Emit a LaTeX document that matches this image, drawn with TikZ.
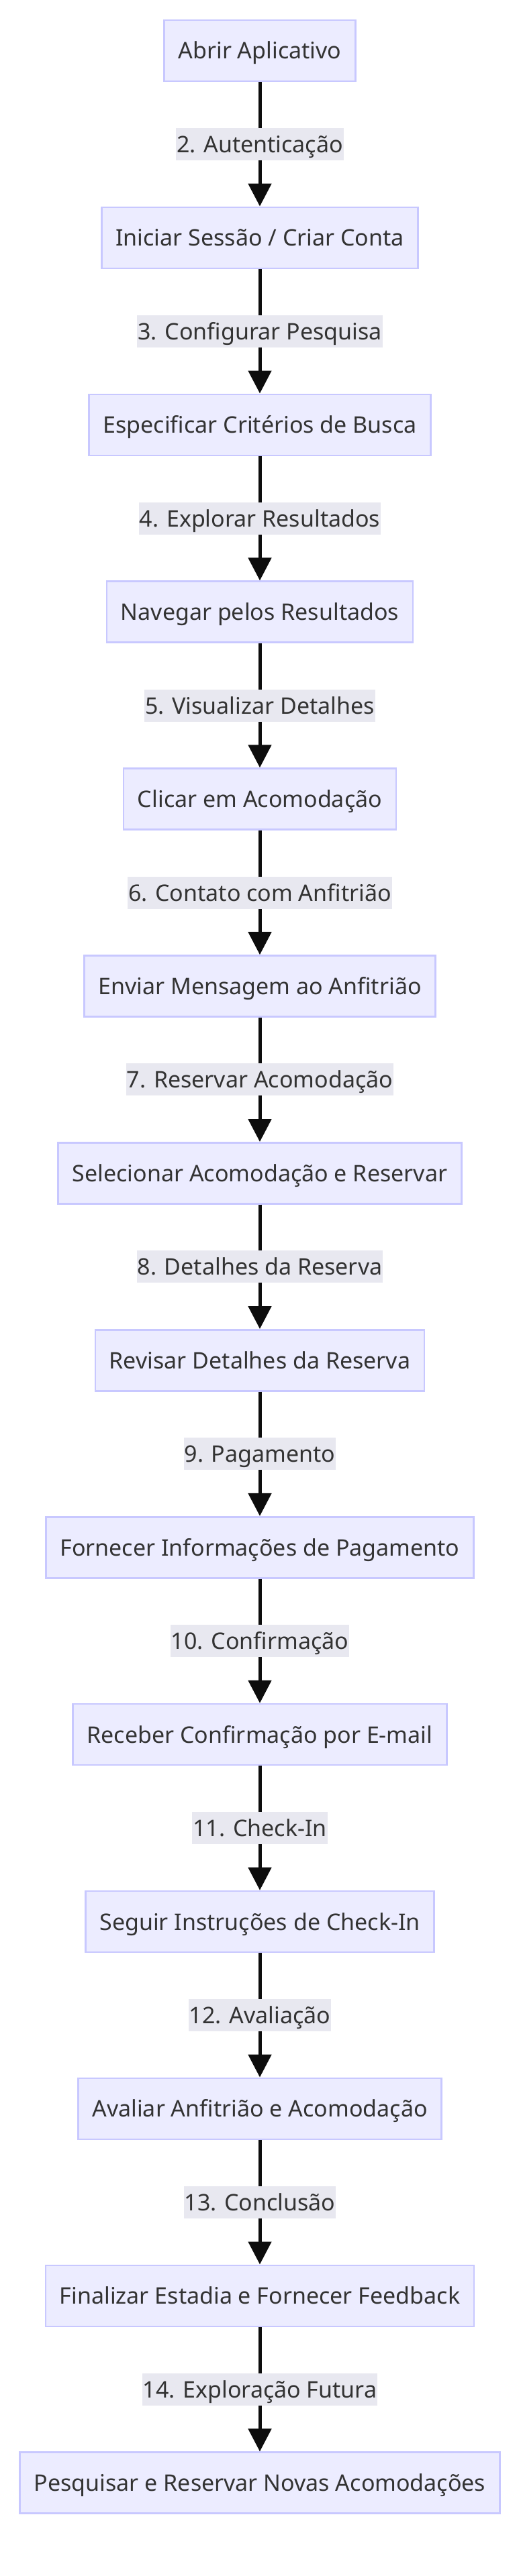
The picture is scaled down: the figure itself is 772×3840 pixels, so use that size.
\documentclass[tikz,border=0pt]{standalone}
\usepackage{fontspec}
\setmainfont{Noto Sans}
\usetikzlibrary{arrows.meta}
\definecolor{boxfill}{RGB}{236,236,255}
\definecolor{boxline}{RGB}{200,200,255}
\definecolor{lblfill}{RGB}{232,232,240}
\definecolor{txt}{RGB}{51,51,51}
\tikzset{
  stepbox/.style = {draw = boxline, fill = boxfill, line width = 2.6pt, text = txt,
    minimum height = 91pt, inner xsep = 21pt, inner ysep = 0pt,
    text height = 25pt, text depth = 0pt, font = \fontsize{34}{40}\selectfont},
  lbl/.style = {fill = lblfill, text = txt, inner xsep = 1pt, inner ysep = 0pt,
    minimum height = 48pt, text height = 25pt, text depth = 0pt,
    font = \fontsize{34}{40}\selectfont},
  flow/.style = {line width = 5pt, black!95, ->}
}

\begin{document}
\begin{tikzpicture}[x = 1pt, y = -1pt, >={Triangle[length=34pt, width=34pt]}]
\useasboundingbox (0,0) rectangle (772,3840);
\node[stepbox] (abrir) at (387,75.5) {Abrir Aplicativo};
\node[stepbox] (sessao) at (387,354.4) {Iniciar Sessão / Criar Conta};
\node[stepbox] (criterios) at (387,633.3) {Especificar Critérios de Busca};
\node[stepbox] (navegar) at (387,912.2) {Navegar pelos Resultados};
\node[stepbox] (clicar) at (387,1191.1) {Clicar em Acomodação};
\node[stepbox] (mensagem) at (387,1470) {Enviar Mensagem ao Anfitrião};
\node[stepbox] (selecionar) at (387,1748.9) {Selecionar Acomodação e Reservar};
\node[stepbox] (revisar) at (387,2027.8) {Revisar Detalhes da Reserva};
\node[stepbox] (pagamento) at (387,2306.7) {Fornecer Informações de Pagamento};
\node[stepbox] (email) at (387,2585.6) {Receber Confirmação por E-mail};
\node[stepbox] (checkin) at (387,2864.5) {Seguir Instruções de Check-In};
\node[stepbox] (avaliar) at (387,3143.4) {Avaliar Anfitrião e Acomodação};
\node[stepbox] (finalizar) at (387,3422.3) {Finalizar Estadia e Fornecer Feedback};
\node[stepbox] (novas) at (387,3701.2) {Pesquisar e Reservar Novas Acomodações};

\draw[flow] (abrir) -- node[lbl] {2. Autenticação} (sessao);
\draw[flow] (sessao) -- node[lbl] {3. Configurar Pesquisa} (criterios);
\draw[flow] (criterios) -- node[lbl] {4. Explorar Resultados} (navegar);
\draw[flow] (navegar) -- node[lbl] {5. Visualizar Detalhes} (clicar);
\draw[flow] (clicar) -- node[lbl] {6. Contato com Anfitrião} (mensagem);
\draw[flow] (mensagem) -- node[lbl] {7. Reservar Acomodação} (selecionar);
\draw[flow] (selecionar) -- node[lbl] {8. Detalhes da Reserva} (revisar);
\draw[flow] (revisar) -- node[lbl] {9. Pagamento} (pagamento);
\draw[flow] (pagamento) -- node[lbl] {10. Confirmação} (email);
\draw[flow] (email) -- node[lbl] {11. Check-In} (checkin);
\draw[flow] (checkin) -- node[lbl] {12. Avaliação} (avaliar);
\draw[flow] (avaliar) -- node[lbl] {13. Conclusão} (finalizar);
\draw[flow] (finalizar) -- node[lbl] {14. Exploração Futura} (novas);
\end{tikzpicture}
\end{document}
